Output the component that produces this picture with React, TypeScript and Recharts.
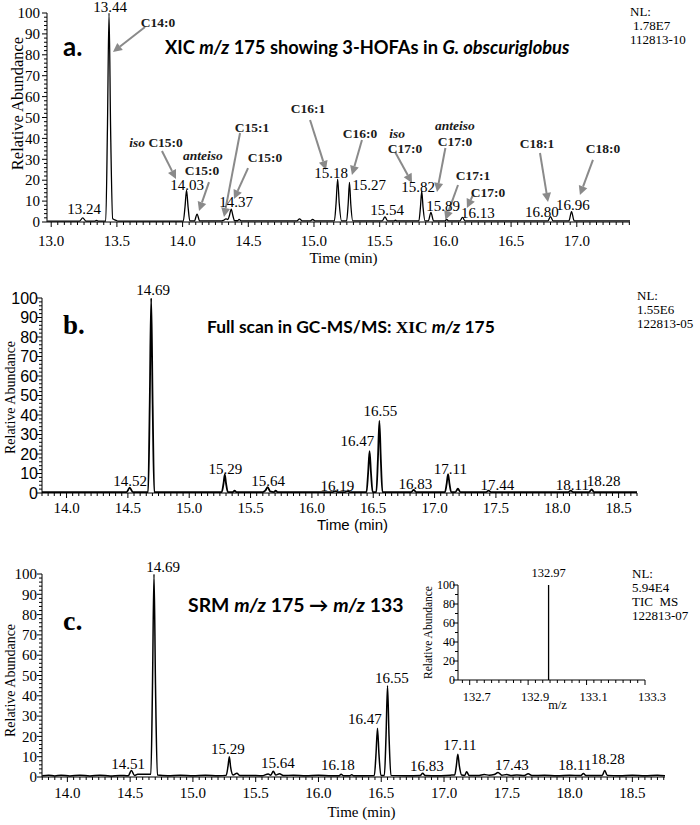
import React from "react";
import { LineChart, Line, XAxis, YAxis, ReferenceDot, ReferenceLine } from "recharts";

const SERIF = '"Liberation Serif", "Times New Roman", serif';
const SANS = '"Liberation Sans", Arial, sans-serif';
const TITLE = 'Lato, "Open Sans", sans-serif';

// ---- panel a: XIC m/z 175, G. obscuriglobus ----
const traceA: [number, number][] = [
  [12.97, 0.4], [13.1, 0.4], [13.215, 0.4], [13.24, 2.0], [13.265, 0.4],
  [13.33, 0.4], [13.345, 0.8], [13.36, 0.4],
  [13.415, 0.4], [13.428, 45], [13.44, 100], [13.452, 45], [13.468, 1.5], [13.49, 0.9], [13.51, 0.4],
  [13.7, 0.4], [14.005, 0.4], [14.018, 7], [14.03, 15.2], [14.042, 7], [14.055, 0.5],
  [14.09, 0.5], [14.11, 3.8], [14.13, 0.5],
  [14.29, 0.5], [14.31, 0.8], [14.33, 1.5], [14.345, 1.2], [14.358, 3.5], [14.37, 6.2], [14.383, 3], [14.395, 0.6],
  [14.42, 0.6], [14.43, 1.3], [14.445, 0.5],
  [14.87, 0.5], [14.89, 1.5], [14.91, 0.5], [14.97, 0.5], [14.99, 1.2], [15.01, 0.5],
  [15.155, 0.5], [15.168, 9], [15.18, 20.5], [15.192, 9], [15.21, 0.5],
  [15.248, 0.5], [15.26, 8.5], [15.27, 19], [15.28, 8.5], [15.295, 0.5],
  [15.52, 0.5], [15.54, 2.5], [15.56, 0.5], [15.61, 0.5], [15.62, 0.9], [15.63, 0.5],
  [15.798, 0.5], [15.81, 7], [15.82, 14.8], [15.83, 7], [15.845, 0.5],
  [15.87, 0.5], [15.89, 4.6], [15.91, 0.5],
  [15.995, 0.5], [16.01, 1.2], [16.025, 0.5],
  [16.11, 0.5], [16.13, 2.2], [16.15, 0.5],
  [16.78, 0.5], [16.8, 2.6], [16.82, 0.5],
  [16.94, 0.5], [16.96, 5], [16.98, 0.5], [17.405, 0.5],
];
const peaksA = [
  { text: "13.24", t: 13.25, v: 3.8 },
  { text: "13.44", t: 13.448, v: 100.3 },
  { text: "14.03", t: 14.034, v: 15.3 },
  { text: "14.37", t: 14.407, v: 7.2 },
  { text: "15.18", t: 15.13, v: 21.1 },
  { text: "15.27", t: 15.419, v: 15.3 },
  { text: "15.54", t: 15.556, v: 3.3 },
  { text: "15.82", t: 15.792, v: 14.4 },
  { text: "15.89", t: 15.982, v: 5.3 },
  { text: "16.13", t: 16.248, v: 1.9 },
  { text: "16.80", t: 16.735, v: 2.4 },
  { text: "16.96", t: 16.971, v: 5.7 },
];
const compoundsA = [
  { name: "C14:0", t: 13.813, v: 93.3 },
  { name: "C15:0", pre: "iso", t: 13.798, v: 35.9 },
  { name: "anteiso", italic: true, t: 14.155, v: 29.6 },
  { name: "C15:0", t: 14.148, v: 22.3 },
  { name: "C15:1", t: 14.528, v: 43.1 },
  { name: "C15:0", t: 14.627, v: 28.7 },
  { name: "C16:1", t: 14.954, v: 52.2 },
  { name: "C16:0", t: 15.35, v: 40.2 },
  { name: "iso", italic: true, t: 15.632, v: 40.2 },
  { name: "C17:0", t: 15.693, v: 33.2 },
  { name: "anteiso", italic: true, t: 16.073, v: 44.0 },
  { name: "C17:0", t: 16.073, v: 36.4 },
  { name: "C17:1", t: 16.21, v: 20.1 },
  { name: "C17:0", t: 16.324, v: 12.0 },
  { name: "C18:1", t: 16.697, v: 35.4 },
  { name: "C18:0", t: 17.2, v: 33.0 },
];
// [t from, v from, t to, v to]
const arrowsA: [number, number, number, number][] = [
  [13.714, 93.3, 13.47, 81.3],
  [13.843, 34.0, 13.95, 20.6],
  [14.201, 19.1, 14.125, 5.3],
  [14.437, 42.6, 14.315, 2.4],
  [14.498, 25.8, 14.391, 11.0],
  [14.97, 48.8, 15.091, 24.9],
  [15.365, 39.2, 15.289, 22.5],
  [15.617, 33.5, 15.746, 18.7],
  [16.0, 35.4, 15.936, 14.4],
  [16.096, 17.7, 16.0, 1.0],
  [16.21, 12.9, 16.164, 6.7],
  [16.72, 33.0, 16.781, 9.6],
  [17.123, 29.7, 17.024, 12.9],
];

// ---- panel b: full scan GC-MS/MS ----
const traceB: [number, number][] = [
  [13.8, 0.5], [14.49, 0.5], [14.515, 2.8], [14.54, 0.5],
  [14.665, 0.5], [14.678, 45], [14.69, 100], [14.702, 45], [14.715, 0.5],
  [15.265, 0.5], [15.28, 5], [15.29, 9.5], [15.3, 5], [15.315, 0.5],
  [15.355, 0.5], [15.37, 1.2], [15.385, 0.5],
  [15.6, 0.5], [15.62, 1.2], [15.64, 3], [15.66, 0.8], [15.69, 0.5], [15.705, 1.2], [15.72, 0.5],
  [16.17, 0.5], [16.19, 1.0], [16.21, 0.5], [16.27, 0.5], [16.29, 1.0], [16.31, 0.5],
  [16.445, 0.5], [16.458, 10], [16.47, 21.5], [16.482, 10], [16.495, 0.5],
  [16.525, 0.5], [16.538, 17], [16.55, 37], [16.562, 17], [16.575, 0.5],
  [16.81, 0.5], [16.83, 1.6], [16.85, 0.5],
  [17.085, 0.5], [17.098, 4.5], [17.11, 9.7], [17.122, 4.5], [17.135, 0.5],
  [17.17, 0.5], [17.19, 2.2], [17.21, 0.5],
  [17.42, 0.5], [17.44, 1.2], [17.46, 0.5],
  [18.09, 0.5], [18.11, 1.2], [18.13, 0.5],
  [18.26, 0.5], [18.28, 1.8], [18.3, 0.5], [18.65, 0.5],
];
const peaksB = [
  { text: "14.69", t: 14.706, v: 101.5 },
  { text: "14.52", t: 14.519, v: 3.6 },
  { text: "15.29", t: 15.294, v: 9.7 },
  { text: "15.64", t: 15.644, v: 3.6 },
  { text: "16.19", t: 16.207, v: 1.0 },
  { text: "16.47", t: 16.37, v: 24.1 },
  { text: "16.55", t: 16.558, v: 39.5 },
  { text: "16.83", t: 16.843, v: 2.1 },
  { text: "17.11", t: 17.129, v: 9.7 },
  { text: "17.44", t: 17.512, v: 1.5 },
  { text: "18.11", t: 18.124, v: 1.5 },
  { text: "18.28", t: 18.377, v: 3.6 },
];

// ---- panel c: SRM m/z 175 -> m/z 133 ----
const traceC: [number, number][] = [
  [13.8, 0.6], [13.85, 0.9], [13.9, 0.5], [13.95, 0.9], [14.02, 0.5], [14.1, 0.9], [14.18, 0.5],
  [14.26, 0.9], [14.34, 0.5], [14.42, 0.8],
  [14.485, 0.6], [14.51, 3.2], [14.535, 0.8], [14.56, 1.3], [14.63, 1.3],
  [14.665, 1.3], [14.678, 45], [14.69, 100], [14.702, 45], [14.717, 1.0],
  [14.8, 0.6], [14.9, 0.9], [15.0, 0.6], [15.1, 0.9], [15.2, 0.6],
  [15.265, 0.8], [15.28, 5.5], [15.29, 10], [15.3, 5], [15.32, 1.0], [15.35, 1.8], [15.375, 0.7],
  [15.45, 0.8], [15.55, 0.6], [15.6, 1.5], [15.62, 0.9], [15.64, 2.8], [15.66, 1.0], [15.69, 1.6], [15.72, 0.7],
  [15.8, 0.9], [15.9, 0.6], [16.0, 0.9], [16.1, 0.6],
  [16.165, 0.6], [16.18, 1.4], [16.2, 0.6], [16.25, 0.6], [16.265, 1.1], [16.28, 0.6],
  [16.445, 0.8], [16.458, 11], [16.47, 24], [16.482, 11], [16.497, 0.8],
  [16.525, 0.8], [16.538, 20], [16.55, 45], [16.562, 20], [16.577, 0.8],
  [16.7, 0.6], [16.81, 0.7], [16.83, 1.8], [16.85, 0.7],
  [16.95, 0.6], [17.05, 0.9], [17.085, 1.0], [17.098, 5.5], [17.11, 11.2], [17.122, 5.5], [17.14, 1.0],
  [17.165, 0.8], [17.18, 2.6], [17.2, 0.7],
  [17.28, 0.8], [17.32, 1.2], [17.36, 0.9], [17.4, 1.2], [17.43, 2.2], [17.46, 0.9], [17.5, 1.2],
  [17.53, 0.8], [17.58, 1.0], [17.64, 0.8], [17.67, 1.6], [17.7, 0.7],
  [17.8, 0.9], [17.9, 0.6], [18.0, 0.9], [18.09, 0.7], [18.11, 1.7], [18.13, 0.7],
  [18.2, 0.8], [18.26, 0.8], [18.28, 3.2], [18.3, 0.8], [18.4, 0.6], [18.5, 0.9], [18.6, 0.6], [18.7, 0.9], [18.76, 0.6],
];
const peaksC = [
  { text: "14.69", t: 14.762, v: 101 },
  { text: "14.51", t: 14.483, v: 4.1 },
  { text: "15.29", t: 15.279, v: 11.2 },
  { text: "15.64", t: 15.677, v: 4.4 },
  { text: "16.18", t: 16.155, v: 3.3 },
  { text: "16.47", t: 16.37, v: 26.3 },
  { text: "16.55", t: 16.585, v: 46.3 },
  { text: "16.83", t: 16.864, v: 3.0 },
  { text: "17.11", t: 17.126, v: 13.4 },
  { text: "17.43", t: 17.54, v: 3.6 },
  { text: "18.11", t: 18.042, v: 3.3 },
  { text: "18.28", t: 18.305, v: 6.6 },
];

// inset spectrum
const spectrum: [number, number][] = [[132.97, 0], [132.97, 100]];
const insetXLabels = [132.7, 132.9, 133.1, 133.3];
const insetYLabels = [0, 20, 40, 60, 80, 100];

const xLabelsA = [13.0, 13.5, 14.0, 14.5, 15.0, 15.5, 16.0, 16.5, 17.0];
const xLabelsBC = [14.0, 14.5, 15.0, 15.5, 16.0, 16.5, 17.0, 17.5, 18.0, 18.5];
const yLabels = [0, 10, 20, 30, 40, 50, 60, 70, 80, 90, 100];

const toRows = (pts: [number, number][]) => pts.map(([t, v]) => ({ t, v }));

const steps = (from: number, to: number, step: number) => {
  const out: number[] = [];
  for (let k = Math.ceil(from / step - 1e-9); k * step <= to + 1e-9; k++) out.push(+(k * step).toFixed(4));
  return out;
};
const near = (arr: number[], v: number) => arr.some((m) => Math.abs(m - v) < 1e-6);

function xTick(majors: number[], font: React.CSSProperties, labelDy: number, digits = 1, dx = 0) {
  return (p: any) => {
    const v = p.payload.value;
    const big = near(majors, v);
    return (
      <g>
        <line x1={p.x} x2={p.x} y1={p.y} y2={p.y + (big ? 5 : 3)} stroke="#000" />
        {big && (
          <text x={p.x + dx} y={p.y + labelDy} textAnchor="middle" fill="#000" style={font}>
            {v.toFixed(digits)}
          </text>
        )}
      </g>
    );
  };
}

function yTick(majors: number[], font: React.CSSProperties, dx: number) {
  return (p: any) => {
    const v = p.payload.value;
    const big = near(majors, v);
    return (
      <g>
        <line x1={p.x - (big ? 5 : 3)} x2={p.x} y1={p.y} y2={p.y} stroke="#000" />
        {big && (
          <text x={p.x + dx} y={p.y} dy="0.35em" textAnchor="end" fill="#000" style={font}>
            {v}
          </text>
        )}
      </g>
    );
  };
}

const xTitle = (text: string, font: React.CSSProperties, dx: number, dy: number) => (p: any) => {
  const vb = p.viewBox;
  return (
    <text x={vb.x + vb.width / 2 + dx} y={vb.y + dy} textAnchor="middle" fill="#000" style={font}>
      {text}
    </text>
  );
};

const yTitle = (text: string, font: React.CSSProperties, x: number, dy: number) => (p: any) => {
  const vb = p.viewBox;
  const cx = vb.x + x;
  const cy = vb.y + vb.height / 2 + dy;
  return (
    <text x={cx} y={cy} transform={`rotate(-90 ${cx} ${cy})`} textAnchor="middle" dominantBaseline="central" fill="#000" style={font}>
      {text}
    </text>
  );
};

const labelFont: React.CSSProperties = { fontFamily: SERIF, fontSize: 15 };
const compFont: React.CSSProperties = { fontFamily: SERIF, fontSize: 13.5, fontWeight: 700 };

const textShape = (content: React.ReactNode, font: React.CSSProperties, color = "#000") => (p: any) => (
  <text x={p.cx} y={p.cy} textAnchor="middle" fill={color} style={font}>
    {content}
  </text>
);

const arrowShape = (p: any) => {
  const { x1, y1, x2, y2 } = p;
  const a = Math.atan2(y2 - y1, x2 - x1);
  const len = 9;
  const bx = x2 - len * Math.cos(a);
  const by = y2 - len * Math.sin(a);
  const w = 4.5;
  const pts = `${x2},${y2} ${bx + w * Math.sin(a)},${by - w * Math.cos(a)} ${bx - w * Math.sin(a)},${by + w * Math.cos(a)}`;
  return (
    <g>
      <line x1={x1} y1={y1} x2={bx} y2={by} stroke="#8a8a8a" strokeWidth={2} />
      <polygon points={pts} fill="#8a8a8a" />
    </g>
  );
};

function peakDots(list: { text: string; t: number; v: number }[]) {
  return list.map((p, i) => (
    <ReferenceDot key={"p" + i} x={p.t} y={p.v} r={0} ifOverflow="visible" shape={textShape(p.text, labelFont)} />
  ));
}

const ovText: React.CSSProperties = { fontFamily: SERIF, fontSize: 13, fill: "#000" };

export default function App() {
  const domA: [number, number] = [12.968, 17.405];
  const domB: [number, number] = [13.8, 18.65];
  const domC: [number, number] = [13.798, 18.76];
  const tickFont: React.CSSProperties = { fontFamily: SERIF, fontSize: 15 };

  return (
    <div style={{ position: "absolute", left: 0, top: 0, width: 700, height: 825, background: "#fff", overflow: "hidden" }}>
      {/* panel a */}
      <div style={{ position: "absolute", left: 0, top: 0 }}>
        <LineChart width={700} height={270} margin={{ top: 13, right: 70, bottom: 8, left: 0 }}>
          <XAxis
            dataKey="t"
            type="number"
            domain={domA}
            allowDataOverflow
            ticks={steps(domA[0], domA[1], 0.05)}
            interval={0}
            tickSize={0}
            tickMargin={0}
            tickLine={false}
            tick={xTick(xLabelsA, tickFont, 24)}
            axisLine={{ stroke: "#000" }}
            height={40}
            label={xTitle("Time (min)", { fontFamily: SERIF, fontSize: 15 }, 5, 41)}
          />
          <YAxis
            type="number"
            domain={[0, 100]}
            allowDataOverflow
            ticks={steps(0, 100, 2)}
            interval={0}
            tickSize={0}
            tickMargin={0}
            tickLine={false}
            tick={yTick(yLabels, tickFont, -7)}
            axisLine={{ stroke: "#000" }}
            width={47}
            label={yTitle("Relative Abundance", { fontFamily: SERIF, fontSize: 16.5 }, 17, -14)}
          />
          <Line data={toRows(traceA)} dataKey="v" type="monotone" stroke="#000" strokeWidth={1.3} dot={false} isAnimationActive={false} />
          {arrowsA.map((a, i) => (
            <ReferenceLine key={"a" + i} segment={[{ x: a[0], y: a[1] }, { x: a[2], y: a[3] }]} ifOverflow="visible" shape={arrowShape} />
          ))}
          {compoundsA.map((c, i) => (
            <ReferenceDot
              key={"c" + i}
              x={c.t}
              y={c.v}
              r={0}
              ifOverflow="visible"
              shape={textShape(
                c.pre ? (
                  <>
                    <tspan fontStyle="italic">{c.pre}</tspan> {c.name}
                  </>
                ) : (
                  c.name
                ),
                c.italic ? { ...compFont, fontStyle: "italic" } : compFont,
                "#1a1a1a"
              )}
            />
          ))}
          {peakDots(peaksA)}
        </LineChart>
      </div>

      {/* panel b */}
      <div style={{ position: "absolute", left: 0, top: 270 }}>
        <LineChart width={700} height={270} margin={{ top: 28, right: 63, bottom: 7, left: 0 }}>
          <XAxis
            dataKey="t"
            type="number"
            domain={domB}
            allowDataOverflow
            ticks={steps(domB[0], domB[1], 0.05)}
            interval={0}
            tickSize={0}
            tickMargin={0}
            tickLine={false}
            tick={xTick(xLabelsBC, tickFont, 20)}
            axisLine={{ stroke: "#000" }}
            height={40}
            label={xTitle("Time (min)", { fontFamily: SANS, fontSize: 15 }, 13, 37)}
          />
          <YAxis
            type="number"
            domain={[0, 100]}
            allowDataOverflow
            ticks={steps(0, 100, 2)}
            interval={0}
            tickSize={0}
            tickMargin={0}
            tickLine={false}
            tick={yTick(yLabels, { fontFamily: SANS, fontSize: 16 }, -4)}
            axisLine={{ stroke: "#000" }}
            width={42}
            label={yTitle("Relative Abundance", { fontFamily: SERIF, fontSize: 14 }, 10, 2)}
          />
          <Line data={toRows(traceB)} dataKey="v" type="monotone" stroke="#000" strokeWidth={1.8} dot={false} isAnimationActive={false} />
          {peakDots(peaksB)}
        </LineChart>
      </div>

      {/* panel c */}
      <div style={{ position: "absolute", left: 0, top: 545 }}>
        <LineChart width={700} height={280} margin={{ top: 29, right: 35, bottom: 8, left: 0 }}>
          <XAxis
            dataKey="t"
            type="number"
            domain={domC}
            allowDataOverflow
            ticks={steps(domC[0], domC[1], 0.05)}
            interval={0}
            tickSize={0}
            tickMargin={0}
            tickLine={false}
            tick={xTick(xLabelsBC, tickFont, 21)}
            axisLine={{ stroke: "#000" }}
            height={40}
            label={xTitle("Time (min)", { fontFamily: SERIF, fontSize: 15 }, 8, 40)}
          />
          <YAxis
            type="number"
            domain={[0, 100]}
            allowDataOverflow
            ticks={steps(0, 100, 2)}
            interval={0}
            tickSize={0}
            tickMargin={0}
            tickLine={false}
            tick={yTick(yLabels, tickFont, -5)}
            axisLine={{ stroke: "#000" }}
            width={42}
            label={yTitle("Relative Abundance", { fontFamily: SERIF, fontSize: 14 }, 10, 5)}
          />
          <Line data={toRows(traceC)} dataKey="v" type="monotone" stroke="#000" strokeWidth={1.5} dot={false} isAnimationActive={false} />
          {peakDots(peaksC)}
        </LineChart>
      </div>

      {/* inset spectrum */}
      <div style={{ position: "absolute", left: 400, top: 555 }}>
        <LineChart width={290} height={160} margin={{ top: 30, right: 45, bottom: 5, left: 0 }}>
          <XAxis
            dataKey="m"
            type="number"
            domain={[132.66, 133.3]}
            allowDataOverflow
            ticks={steps(132.66, 133.3, 0.025)}
            interval={0}
            tickSize={0}
            tickMargin={0}
            tickLine={false}
            tick={xTick(insetXLabels, { fontFamily: SERIF, fontSize: 12.5 }, 21, 1, 7)}
            axisLine={{ stroke: "#000" }}
            height={30}
            label={xTitle("m/z", { fontFamily: SERIF, fontSize: 12.5 }, 6, 29)}
          />
          <YAxis
            type="number"
            domain={[0, 100]}
            allowDataOverflow
            ticks={steps(0, 100, 10)}
            interval={0}
            tickSize={0}
            tickMargin={0}
            tickLine={false}
            tick={yTick(insetYLabels, { fontFamily: SERIF, fontSize: 12 }, -3)}
            axisLine={{ stroke: "#000" }}
            width={58}
            label={yTitle("Relative Abundance", { fontFamily: SERIF, fontSize: 11.5 }, 28, 0)}
          />
          <Line
            data={spectrum.map(([m, v]) => ({ m, v }))}
            dataKey="v"
            type="linear"
            stroke="#000"
            strokeWidth={1.3}
            dot={false}
            isAnimationActive={false}
          />
          <ReferenceDot x={132.97} y={100} r={0} ifOverflow="visible" shape={(p: any) => textShape("132.97", { fontFamily: SERIF, fontSize: 12.5 })({ cx: p.cx, cy: p.cy - 8 })} />
        </LineChart>
      </div>

      {/* titles and run info */}
      <svg width={700} height={825} style={{ position: "absolute", left: 0, top: 0, pointerEvents: "none" }}>
        <text x={63} y={56} style={{ fontFamily: TITLE, fontSize: 26, fontWeight: 700 }}>a.</text>
        <text x={165} y={54} style={{ fontFamily: TITLE, fontSize: 18.3, fontWeight: 700 }}>
          XIC <tspan fontStyle="italic">m/z</tspan> 175 showing 3-HOFAs in <tspan fontStyle="italic">G. obscuriglobus</tspan>
        </text>
        <text x={630} y={16} style={ovText}>NL:</text>
        <text x={633} y={30} style={ovText}>1.78E7</text>
        <text x={630} y={44} style={ovText}>112813-10</text>

        <text x={63} y={334} style={{ fontFamily: SERIF, fontSize: 27, fontWeight: 700 }}>b.</text>
        <text x={207} y={333} style={{ fontFamily: TITLE, fontSize: 17.4, fontWeight: 700 }}>
          Full scan in GC-MS/MS: <tspan fontFamily={SERIF}>XIC</tspan> <tspan fontStyle="italic">m/z</tspan> 175
        </text>
        <text x={637} y={300} style={ovText}>NL:</text>
        <text x={637} y={314} style={ovText}>1.55E6</text>
        <text x={637} y={328} style={ovText}>122813-05</text>

        <text x={63} y={630} style={{ fontFamily: SERIF, fontSize: 28, fontWeight: 700 }}>c.</text>
        <text x={188} y={612} style={{ fontFamily: TITLE, fontSize: 19.4, fontWeight: 700 }}>
          SRM <tspan fontStyle="italic">m/z</tspan> 175 → <tspan fontStyle="italic">m/z</tspan> 133
        </text>
        <text x={632} y={578} style={ovText}>NL:</text>
        <text x={632} y={592} style={ovText}>5.94E4</text>
        <text x={632} y={606} style={{ ...ovText, whiteSpace: "pre" }}>TIC  MS</text>
        <text x={632} y={620} style={ovText}>122813-07</text>
      </svg>
    </div>
  );
}
